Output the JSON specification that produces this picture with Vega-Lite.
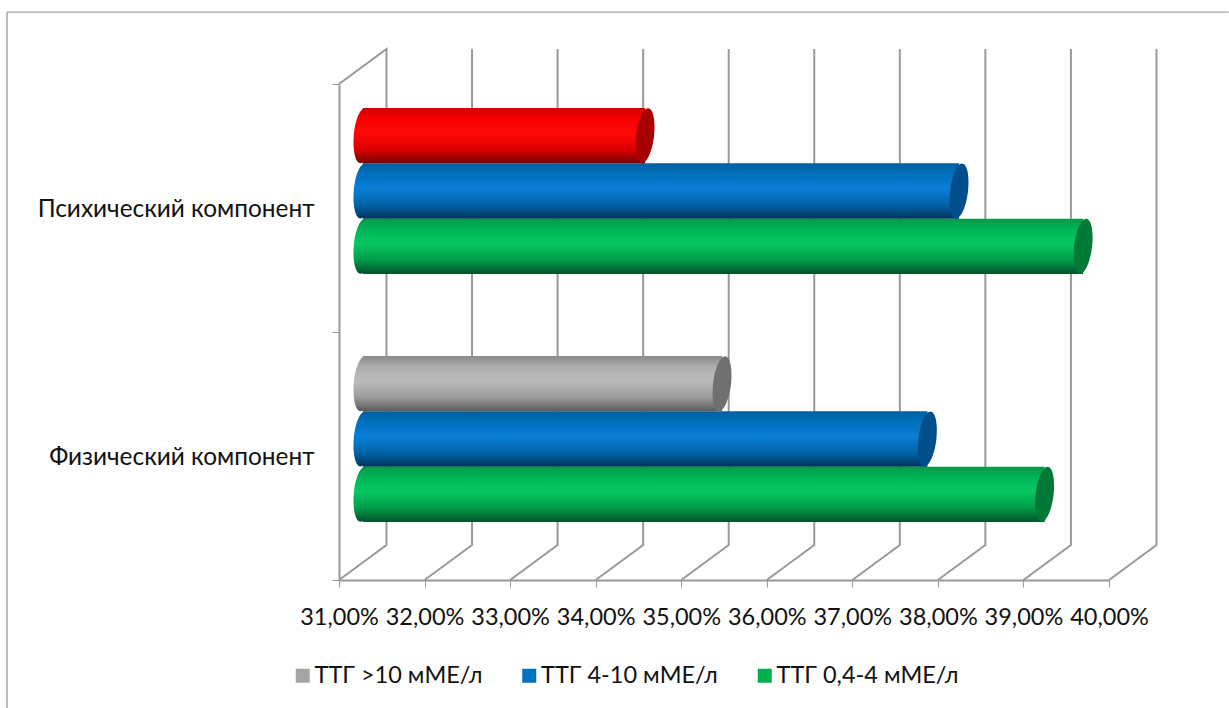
{
  "$schema": "https://vega.github.io/schema/vega-lite/v6.json",
  "width": 770,
  "height": 496,
  "autosize": "none",
  "padding": {"left": 339, "top": 84, "right": 120, "bottom": 128},
  "background": "white",
  "config": {"view": {"stroke": null}, "font": "Lato"},
  "datasets": {
    "bars": [
      {"component": "Психический компонент", "series": "ТТГ 0,4-4 мМЕ/л", "value": 39.42, "tone": "green"},
      {"component": "Психический компонент", "series": "ТТГ 4-10 мМЕ/л", "value": 37.97, "tone": "blue"},
      {"component": "Психический компонент", "series": "ТТГ >10 мМЕ/л", "value": 34.3, "tone": "red"},
      {"component": "Физический компонент", "series": "ТТГ 0,4-4 мМЕ/л", "value": 38.97, "tone": "green"},
      {"component": "Физический компонент", "series": "ТТГ 4-10 мМЕ/л", "value": 37.6, "tone": "blue"},
      {"component": "Физический компонент", "series": "ТТГ >10 мМЕ/л", "value": 35.2, "tone": "grey"}
    ],
    "walls": [
      {"tick": 31, "step": 1, "x": 31, "y": 0}, {"tick": 31, "step": 2, "x": 31.555, "y": 0.141}, {"tick": 31, "step": 3, "x": 31.555, "y": 2.141}, {"tick": 31, "step": 4, "x": 31, "y": 2},
      {"tick": 32, "step": 1, "x": 32, "y": 0}, {"tick": 32, "step": 2, "x": 32.555, "y": 0.141}, {"tick": 32, "step": 3, "x": 32.555, "y": 2.141},
      {"tick": 33, "step": 1, "x": 33, "y": 0}, {"tick": 33, "step": 2, "x": 33.555, "y": 0.141}, {"tick": 33, "step": 3, "x": 33.555, "y": 2.141},
      {"tick": 34, "step": 1, "x": 34, "y": 0}, {"tick": 34, "step": 2, "x": 34.555, "y": 0.141}, {"tick": 34, "step": 3, "x": 34.555, "y": 2.141},
      {"tick": 35, "step": 1, "x": 35, "y": 0}, {"tick": 35, "step": 2, "x": 35.555, "y": 0.141}, {"tick": 35, "step": 3, "x": 35.555, "y": 2.141},
      {"tick": 36, "step": 1, "x": 36, "y": 0}, {"tick": 36, "step": 2, "x": 36.555, "y": 0.141}, {"tick": 36, "step": 3, "x": 36.555, "y": 2.141},
      {"tick": 37, "step": 1, "x": 37, "y": 0}, {"tick": 37, "step": 2, "x": 37.555, "y": 0.141}, {"tick": 37, "step": 3, "x": 37.555, "y": 2.141},
      {"tick": 38, "step": 1, "x": 38, "y": 0}, {"tick": 38, "step": 2, "x": 38.555, "y": 0.141}, {"tick": 38, "step": 3, "x": 38.555, "y": 2.141},
      {"tick": 39, "step": 1, "x": 39, "y": 0}, {"tick": 39, "step": 2, "x": 39.555, "y": 0.141}, {"tick": 39, "step": 3, "x": 39.555, "y": 2.141},
      {"tick": 40, "step": 1, "x": 40, "y": 0}, {"tick": 40, "step": 2, "x": 40.555, "y": 0.141}, {"tick": 40, "step": 3, "x": 40.555, "y": 2.141}
    ]
  },
  "resolve": {"scale": {"y": "independent"}, "axis": {"y": "independent"}},
  "layer": [
    {
      "layer": [
        {
          "data": {"name": "walls"},
          "mark": {"type": "line", "color": "#999999", "strokeWidth": 2, "clip": false},
          "encoding": {
            "x": {
              "field": "x", "type": "quantitative",
              "scale": {"domain": [31, 40], "nice": false, "zero": false},
              "axis": {
                "title": null, "grid": false, "values": [31, 32, 33, 34, 35, 36, 37, 38, 39, 40],
                "labelExpr": "replace(format(datum.value, '.2f'), '.', ',') + '%'",
                "labelFontSize": 23.5, "labelFont": "Lato", "labelColor": "#111111", "labelPadding": 18, "labelOverlap": false, "labelFlush": false,
                "domainColor": "#999999", "domainWidth": 2, "tickColor": "#999999", "tickWidth": 1, "tickSize": 7
              }
            },
            "y": {
              "field": "y", "type": "quantitative",
              "scale": {"domain": [0, 2], "nice": false, "zero": false},
              "axis": {
                "title": null, "grid": false, "values": [0, 1, 2], "labels": false, "orient": "left",
                "domainColor": "#999999", "domainWidth": 2, "tickColor": "#999999", "tickWidth": 1, "tickSize": 7
              }
            },
            "detail": {"field": "tick"},
            "order": {"field": "step"}
          }
        },
        {
          "data": {"values": [{"edge": "top"}]},
          "mark": {"type": "rule", "color": "#8c8c8c", "strokeWidth": 1, "clip": false},
          "encoding": {"x": {"datum": 27.12}, "x2": {"datum": 41.4}, "y": {"datum": 2.29}}
        },
        {
          "data": {"values": [{"edge": "left"}]},
          "mark": {"type": "rule", "color": "#a8a8a8", "strokeWidth": 1.5, "clip": false},
          "encoding": {"x": {"datum": 27.12}, "y": {"datum": 2.29}, "y2": {"datum": -0.516}}
        },
        {
          "data": {"name": "bars"},
          "mark": {"type": "point", "filled": true, "size": 0, "opacity": 1, "clip": false},
          "encoding": {
            "x": {"field": "value", "type": "quantitative"},
            "y": {"datum": 1},
            "color": {
              "field": "series", "type": "nominal",
              "scale": {
                "domain": ["ТТГ >10 мМЕ/л", "ТТГ 4-10 мМЕ/л", "ТТГ 0,4-4 мМЕ/л"],
                "range": ["#a5a5a5", "#0070c0", "#00b050"]
              },
              "legend": {
                "title": null, "orient": "none", "legendX": -48, "legendY": 580, "direction": "horizontal",
                "columns": 3, "gridAlign": "none", "symbolType": "square", "symbolSize": 196, "symbolStrokeWidth": 0, "symbolOpacity": 1,
                "labelFontSize": 23.5, "labelFont": "Lato", "labelColor": "#111111", "labelOffset": 0, "columnPadding": 34.5, "labelLimit": 300
              }
            }
          }
        }
      ]
    },
    {
      "data": {"name": "bars"},
      "encoding": {
        "y": {
          "field": "component", "type": "nominal",
          "scale": {"type": "band", "domain": ["Психический компонент", "Физический компонент"], "range": [-17, 479], "paddingInner": 0, "paddingOuter": 0},
          "axis": {"title": null, "orient": "left", "ticks": false, "domain": false, "labelFontSize": 24.4, "labelFont": "Lato", "labelColor": "#111111", "labelOffset": 18.5, "labelPadding": 25, "labelLimit": 320}
        },
        "yOffset": {
          "field": "series", "type": "nominal",
          "scale": {"type": "band", "domain": ["ТТГ >10 мМЕ/л", "ТТГ 4-10 мМЕ/л", "ТТГ 0,4-4 мМЕ/л"], "range": [41, 207], "paddingInner": 0, "paddingOuter": 0}
        }
      },
      "layer": [
        {
          "transform": [{"filter": "datum.tone === 'green'"}],
          "mark": {"type": "bar", "xOffset": 23.75, "x2Offset": 23.75, "clip": false,
            "fill": {"gradient": "linear", "x1": 0, "y1": 0, "x2": 0, "y2": 1, "stops": [{"offset": 0, "color": "#009a48"}, {"offset": 0.2, "color": "#00b558"}, {"offset": 0.45, "color": "#06c760"}, {"offset": 0.75, "color": "#009c49"}, {"offset": 1, "color": "#00502a"}]}},
          "encoding": {"x": {"field": "value", "type": "quantitative"}, "x2": {"datum": 31}}
        },
        {
          "transform": [{"filter": "datum.tone === 'blue'"}],
          "mark": {"type": "bar", "xOffset": 23.75, "x2Offset": 23.75, "clip": false,
            "fill": {"gradient": "linear", "x1": 0, "y1": 0, "x2": 0, "y2": 1, "stops": [{"offset": 0, "color": "#00609f"}, {"offset": 0.2, "color": "#0070bc"}, {"offset": 0.45, "color": "#0a7fd8"}, {"offset": 0.75, "color": "#0063a6"}, {"offset": 1, "color": "#00345a"}]}},
          "encoding": {"x": {"field": "value", "type": "quantitative"}, "x2": {"datum": 31}}
        },
        {
          "transform": [{"filter": "datum.tone === 'grey'"}],
          "mark": {"type": "bar", "xOffset": 23.75, "x2Offset": 23.75, "clip": false,
            "fill": {"gradient": "linear", "x1": 0, "y1": 0, "x2": 0, "y2": 1, "stops": [{"offset": 0, "color": "#8a8a8a"}, {"offset": 0.2, "color": "#adadad"}, {"offset": 0.45, "color": "#bcbcbc"}, {"offset": 0.75, "color": "#9a9a9a"}, {"offset": 1, "color": "#5a5a5a"}]}},
          "encoding": {"x": {"field": "value", "type": "quantitative"}, "x2": {"datum": 31}}
        },
        {
          "transform": [{"filter": "datum.tone === 'red'"}],
          "mark": {"type": "bar", "xOffset": 23.75, "x2Offset": 23.75, "clip": false,
            "fill": {"gradient": "linear", "x1": 0, "y1": 0, "x2": 0, "y2": 1, "stops": [{"offset": 0, "color": "#d00000"}, {"offset": 0.2, "color": "#f80000"}, {"offset": 0.45, "color": "#ff0808"}, {"offset": 0.75, "color": "#dc0000"}, {"offset": 1, "color": "#780000"}]}},
          "encoding": {"x": {"field": "value", "type": "quantitative"}, "x2": {"datum": 31}}
        },
        {
          "transform": [{"filter": "datum.tone === 'green'"}],
          "mark": {"type": "point", "filled": true, "size": 3025, "opacity": 1, "strokeWidth": 0, "clip": false, "xOffset": 23.75,
            "shape": "M0.08,-1 C0.26,-1 0.37,-0.552 0.327,0 C0.284,0.552 0.1,1 -0.08,1 C-0.26,1 -0.37,0.552 -0.327,0 C-0.284,-0.552 -0.1,-1 0.08,-1 Z",
            "fill": {"gradient": "linear", "x1": 0, "y1": 0, "x2": 0, "y2": 1, "stops": [{"offset": 0, "color": "#009a48"}, {"offset": 0.2, "color": "#00b558"}, {"offset": 0.45, "color": "#06c760"}, {"offset": 0.75, "color": "#009c49"}, {"offset": 1, "color": "#00502a"}]}},
          "encoding": {"x": {"datum": 31}}
        },
        {
          "transform": [{"filter": "datum.tone === 'blue'"}],
          "mark": {"type": "point", "filled": true, "size": 3025, "opacity": 1, "strokeWidth": 0, "clip": false, "xOffset": 23.75,
            "shape": "M0.08,-1 C0.26,-1 0.37,-0.552 0.327,0 C0.284,0.552 0.1,1 -0.08,1 C-0.26,1 -0.37,0.552 -0.327,0 C-0.284,-0.552 -0.1,-1 0.08,-1 Z",
            "fill": {"gradient": "linear", "x1": 0, "y1": 0, "x2": 0, "y2": 1, "stops": [{"offset": 0, "color": "#00609f"}, {"offset": 0.2, "color": "#0070bc"}, {"offset": 0.45, "color": "#0a7fd8"}, {"offset": 0.75, "color": "#0063a6"}, {"offset": 1, "color": "#00345a"}]}},
          "encoding": {"x": {"datum": 31}}
        },
        {
          "transform": [{"filter": "datum.tone === 'grey'"}],
          "mark": {"type": "point", "filled": true, "size": 3025, "opacity": 1, "strokeWidth": 0, "clip": false, "xOffset": 23.75,
            "shape": "M0.08,-1 C0.26,-1 0.37,-0.552 0.327,0 C0.284,0.552 0.1,1 -0.08,1 C-0.26,1 -0.37,0.552 -0.327,0 C-0.284,-0.552 -0.1,-1 0.08,-1 Z",
            "fill": {"gradient": "linear", "x1": 0, "y1": 0, "x2": 0, "y2": 1, "stops": [{"offset": 0, "color": "#8a8a8a"}, {"offset": 0.2, "color": "#adadad"}, {"offset": 0.45, "color": "#bcbcbc"}, {"offset": 0.75, "color": "#9a9a9a"}, {"offset": 1, "color": "#5a5a5a"}]}},
          "encoding": {"x": {"datum": 31}}
        },
        {
          "transform": [{"filter": "datum.tone === 'red'"}],
          "mark": {"type": "point", "filled": true, "size": 3025, "opacity": 1, "strokeWidth": 0, "clip": false, "xOffset": 23.75,
            "shape": "M0.08,-1 C0.26,-1 0.37,-0.552 0.327,0 C0.284,0.552 0.1,1 -0.08,1 C-0.26,1 -0.37,0.552 -0.327,0 C-0.284,-0.552 -0.1,-1 0.08,-1 Z",
            "fill": {"gradient": "linear", "x1": 0, "y1": 0, "x2": 0, "y2": 1, "stops": [{"offset": 0, "color": "#d00000"}, {"offset": 0.2, "color": "#f80000"}, {"offset": 0.45, "color": "#ff0808"}, {"offset": 0.75, "color": "#dc0000"}, {"offset": 1, "color": "#780000"}]}},
          "encoding": {"x": {"datum": 31}}
        },
        {
          "mark": {"type": "point", "filled": true, "size": 3025, "opacity": 1, "strokeWidth": 0, "clip": false, "xOffset": 23.75,
            "shape": "M0.11,-1 C0.29,-1 0.388,-0.552 0.327,0 C0.266,0.552 0.07,1 -0.11,1 C-0.29,1 -0.388,0.552 -0.327,0 C-0.266,-0.552 -0.07,-1 0.11,-1 Z"},
          "encoding": {
            "x": {"field": "value", "type": "quantitative"},
            "fill": {
              "field": "tone", "type": "nominal", "legend": null,
              "scale": {"domain": ["red", "grey", "blue", "green"], "range": ["#a80000", "#707070", "#004f8c", "#007a36"]}
            }
          }
        }
      ]
    }
  ]
}
